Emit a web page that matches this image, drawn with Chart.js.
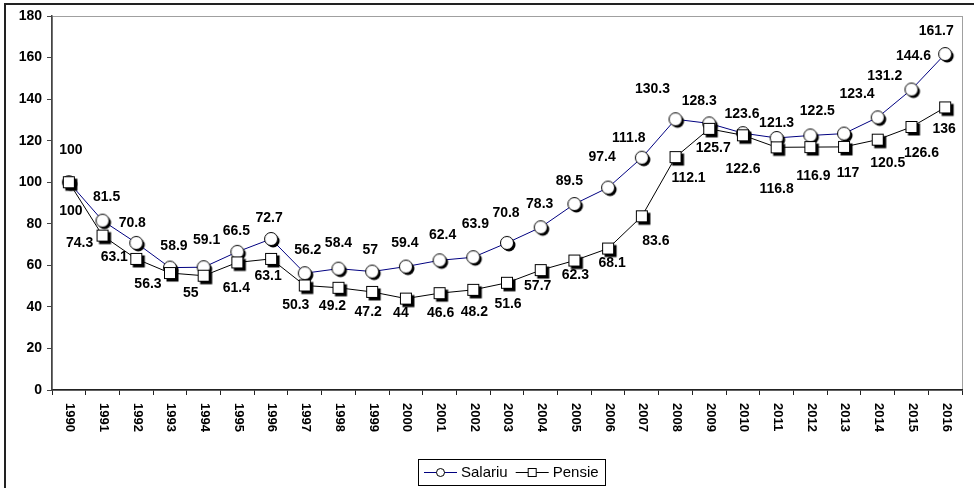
<!DOCTYPE html>
<html lang="ro">
<head>
  <meta charset="UTF-8">
  <title>Salariu si pensie</title>
  <script src="https://cdn.jsdelivr.net/npm/chart.js"></script>
  <style>
    body {
      margin: 0;
      background: #fff;
    }
    #wrap {
      width: 974px;
      height: 488px;
    }
  </style>
</head>
<body>
  <div id="wrap"><canvas id="chart" width="974" height="488"></canvas></div>

  <script>
    // Data
    const years = ['1990', '1991', '1992', '1993', '1994', '1995', '1996', '1997', '1998', '1999',
      '2000', '2001', '2002', '2003', '2004', '2005', '2006', '2007', '2008', '2009',
      '2010', '2011', '2012', '2013', '2014', '2015', '2016'];
    const salariu = [100, 81.5, 70.8, 58.9, 59.1, 66.5, 72.7, 56.2, 58.4, 57,
      59.4, 62.4, 63.9, 70.8, 78.3, 89.5, 97.4, 111.8, 130.3, 128.3,
      123.6, 121.3, 122.5, 123.4, 131.2, 144.6, 161.7];
    const pensie = [100, 74.3, 63.1, 56.3, 55, 61.4, 63.1, 50.3, 49.2, 47.2,
      44, 46.6, 48.2, 51.6, 57.7, 62.3, 68.1, 83.6, 112.1, 125.7,
      122.6, 116.8, 116.9, 117, 120.5, 126.6, 136];
    const yMin = 0, yMax = 180, yStep = 20;

    // label nudges in px (the original labels were placed by hand)
    const salLabelDx = [2, 4, -4, 4, 3, -1, -2, 3, 0, -2, -1, 3, 2, -1, -1, -5, -6, -13, -23, -10, -1, 0, 7, 13, 7, 2, -9];
    const salLabelDy = [-32, -24, -20, -21, -27, -21, -21, -23, -26, -21, -23, -25, -33, -30, -23, -23, -30, -20, -30, -22, -19, -15, -24, -39, -41, -33, -23];
    const penLabelDx = [2, -23, -22, -22, -13, -1, -3, -9, -6, -4, -5, 1, 1, 1, -3, 1, 4, 14, 13, 4, 0, 0, 3, 4, 10, 10, -1];
    const penLabelDy = [29, 8, -2, 11, 17, 26, 17, 20, 18, 20, 15, 20, 22, 21, 16, 15, 15, 25, 21, 19, 34, 42, 29, 26, 24, 26, 22];

    const FONT = "'Liberation Sans', Arial, sans-serif";

    // marker images with the little drop shadow
    function makeMarker(shape) {
      const c = document.createElement('canvas');
      c.width = 20;
      c.height = 20;
      const g = c.getContext('2d');
      g.fillStyle = '#000';
      g.strokeStyle = '#000';
      g.lineWidth = 1;
      if (shape === 'circle') {
        g.beginPath();
        g.arc(12, 12, 6.5, 0, Math.PI * 2);
        g.fill();
        g.beginPath();
        g.arc(10, 10, 6.5, 0, Math.PI * 2);
        g.fillStyle = '#fff';
        g.fill();
        g.stroke();
      } else {
        g.fillRect(6.5, 6.5, 12, 12);
        g.fillStyle = '#fff';
        g.fillRect(4.5, 4.5, 11, 11);
        g.strokeRect(4.5, 4.5, 11, 11);
      }
      return c;
    }

    const frame = {
      id: 'frame',
      beforeDraw(chart) {
        const ctx = chart.ctx;
        const a = chart.chartArea;
        ctx.save();
        ctx.strokeStyle = '#222';
        ctx.lineWidth = 2;
        ctx.strokeRect(5, 4, chart.width + 10, chart.height + 10);
        ctx.strokeStyle = '#a0a0a0';
        ctx.lineWidth = 1;
        ctx.strokeRect(a.left + 0.5, a.top + 0.5, a.right - a.left, a.bottom - a.top);
        ctx.restore();
      }
    };

    const valueLabels = {
      id: 'valueLabels',
      afterDatasetsDraw(chart) {
        const ctx = chart.ctx;
        ctx.save();
        ctx.font = 'bold 14px ' + FONT;
        ctx.fillStyle = '#000';
        ctx.textAlign = 'center';
        ctx.textBaseline = 'middle';
        chart.data.datasets.forEach((ds, di) => {
          const dx = ds.label === 'Salariu' ? salLabelDx : penLabelDx;
          const dy = ds.label === 'Salariu' ? salLabelDy : penLabelDy;
          chart.getDatasetMeta(di).data.forEach((pt, i) => {
            ctx.fillText(String(ds.data[i]), pt.x + dx[i], pt.y + dy[i]);
          });
        });
        ctx.restore();
      }
    };

    // year labels turned clockwise, reading downwards
    const yearLabels = {
      id: 'yearLabels',
      afterDraw(chart) {
        const ctx = chart.ctx;
        const xs = chart.scales.x;
        ctx.save();
        ctx.font = 'bold 13px ' + FONT;
        ctx.fillStyle = '#000';
        ctx.textAlign = 'left';
        ctx.textBaseline = 'middle';
        xs.ticks.forEach((t, i) => {
          ctx.save();
          ctx.translate(xs.getPixelForTick(i) + 1, xs.top + 13);
          ctx.rotate(Math.PI / 2);
          ctx.fillText(xs.getLabelForValue(t.value), 0, 0);
          ctx.restore();
        });
        ctx.restore();
      }
    };

    const boxLegend = {
      id: 'boxLegend',
      afterDraw(chart) {
        const ctx = chart.ctx;
        const a = chart.chartArea;
        const items = [
          { text: 'Salariu', color: '#000080', shape: 'circle' },
          { text: 'Pensie', color: '#000', shape: 'square' }
        ];
        ctx.save();
        ctx.font = '15px ' + FONT;
        const sample = 33, gapText = 4, gapItem = 8, pad = 6;
        let w = pad * 2;
        items.forEach((it, i) => {
          it.w = ctx.measureText(it.text).width;
          w += sample + gapText + it.w + (i ? gapItem : 0);
        });
        const cx = (a.left + a.right) / 2 + 4;
        const cy = a.bottom + 82;
        let x = Math.round(cx - w / 2);
        ctx.strokeStyle = '#000';
        ctx.lineWidth = 1;
        ctx.strokeRect(x + 0.5, cy - 13 + 0.5, Math.round(w), 26);
        x += pad;
        ctx.textBaseline = 'middle';
        ctx.textAlign = 'left';
        items.forEach((it, i) => {
          if (i) x += gapItem;
          ctx.strokeStyle = it.color;
          ctx.beginPath();
          ctx.moveTo(x, cy + 0.5);
          ctx.lineTo(x + sample, cy + 0.5);
          ctx.stroke();
          const mx = x + sample / 2;
          ctx.fillStyle = '#fff';
          ctx.strokeStyle = '#000';
          if (it.shape === 'circle') {
            ctx.beginPath();
            ctx.arc(mx, cy + 0.5, 4, 0, Math.PI * 2);
            ctx.fill();
            ctx.stroke();
          } else {
            ctx.fillRect(mx - 4, cy - 3.5, 8, 8);
            ctx.strokeRect(mx - 4, cy - 3.5, 8, 8);
          }
          x += sample + gapText;
          ctx.fillStyle = '#000';
          ctx.fillText(it.text, x, cy + 1);
          x += it.w;
        });
        ctx.restore();
      }
    };

    const ctx = document.getElementById('chart').getContext('2d');
    const chart = new Chart(ctx, {
      type: 'line',
      data: {
        labels: years,
        datasets: [
          {
            label: 'Salariu',
            data: salariu,
            borderColor: '#000080',
            borderWidth: 1,
            pointStyle: makeMarker('circle'),
            fill: false,
            order: 1
          },
          {
            label: 'Pensie',
            data: pensie,
            borderColor: '#000',
            borderWidth: 1,
            pointStyle: makeMarker('square'),
            fill: false,
            order: 0
          }
        ]
      },
      options: {
        responsive: false,
        animation: false,
        layout: { padding: { top: 16, right: 12, left: 0, bottom: 0 } },
        plugins: {
          legend: { display: false },
          tooltip: { enabled: false }
        },
        scales: {
          x: {
            offset: true,
            grid: {
              offset: true,
              drawOnChartArea: false,
              drawTicks: true,
              tickLength: 5,
              color: '#222'
            },
            border: { color: '#222', width: 1.5 },
            ticks: { display: false },
            afterFit: s => { s.height = 98; }
          },
          y: {
            min: yMin,
            max: yMax,
            grid: {
              drawOnChartArea: false,
              drawTicks: true,
              tickLength: 5,
              color: '#444'
            },
            border: { color: '#444', width: 1.5 },
            ticks: {
              stepSize: yStep,
              padding: 5,
              color: '#000',
              font: { family: FONT, size: 14, weight: 'bold' }
            },
            afterFit: s => { s.width = 52; }
          }
        }
      },
      plugins: [frame, valueLabels, yearLabels, boxLegend]
    });
  </script>
</body>
</html>
